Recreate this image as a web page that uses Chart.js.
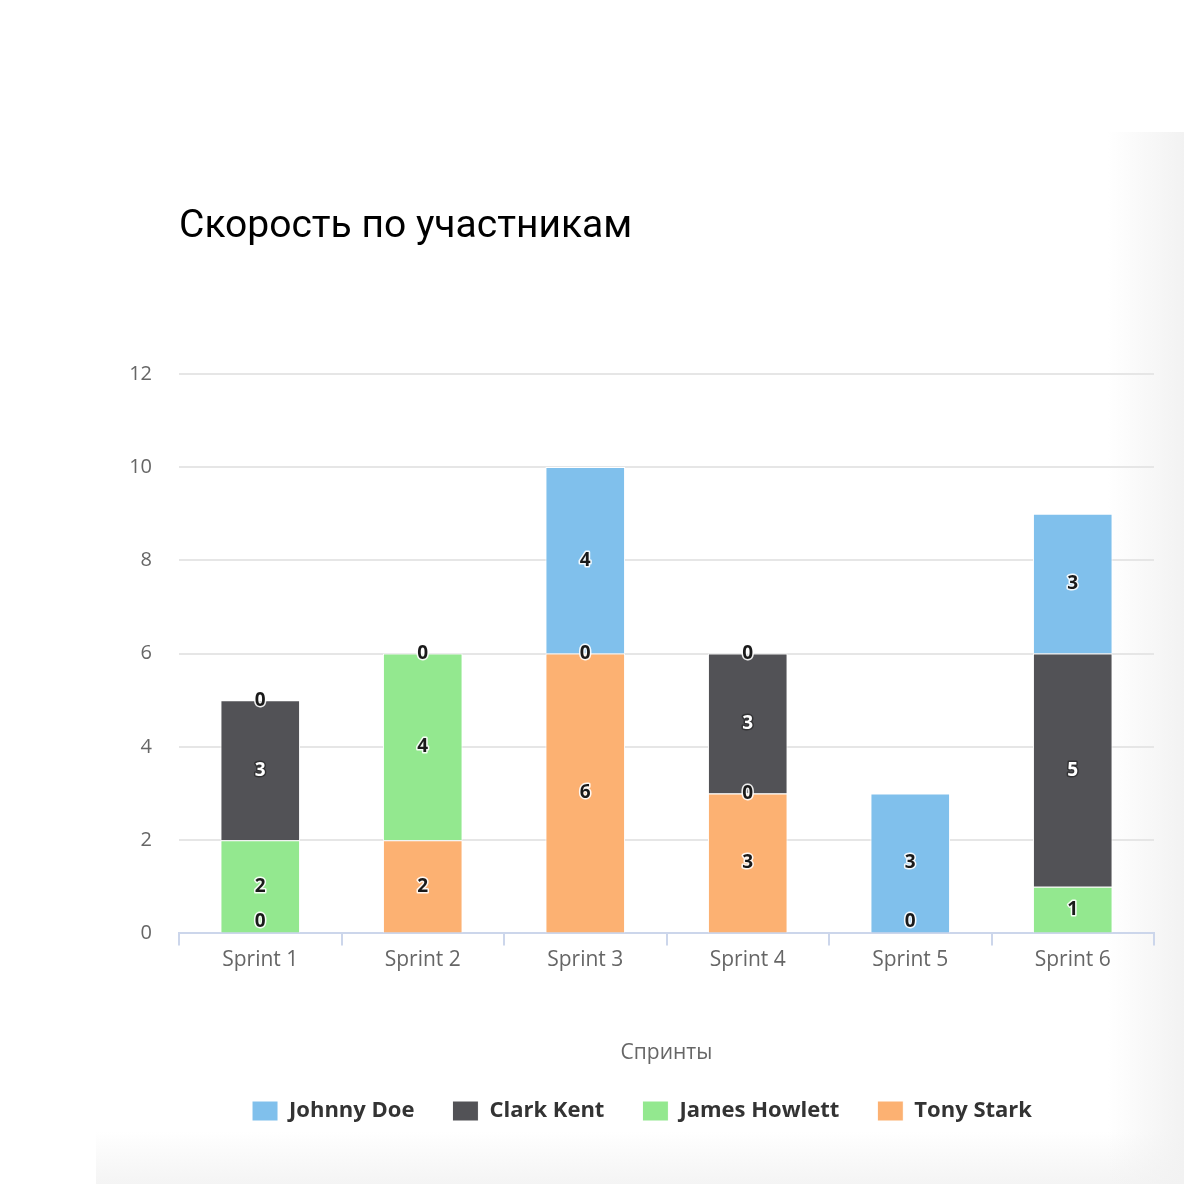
<!DOCTYPE html>
<html>
<head>
<meta charset="utf-8">
<script src="https://cdn.jsdelivr.net/npm/chart.js@4/dist/chart.umd.min.js"></script>
<style>
  html, body { margin: 0; padding: 0; background: #ffffff; }
  #wrap { position: relative; width: 1184px; height: 1184px; overflow: hidden; }
  #panel {
    position: absolute; left: 96px; top: 132px; width: 1088px; height: 1052px;
    background:
      linear-gradient(to right, rgba(242,242,242,0) 0%, rgba(242,242,242,0) 93%, rgba(242,242,242,1) 100%),
      linear-gradient(to bottom, rgba(244,244,244,0) 0%, rgba(244,244,244,0) 95%, rgba(244,244,244,1) 100%);
  }
  canvas { position: absolute; left: 0; top: 0; }
</style>
</head>
<body>
<div id="wrap">
  <div id="panel"></div>
  <canvas id="c" width="1184" height="1184"></canvas>
</div>
<script>
const chartTitle = 'Скорость по участникам';
const xAxisTitle = 'Спринты';
const categories = ['Sprint 1', 'Sprint 2', 'Sprint 3', 'Sprint 4', 'Sprint 5', 'Sprint 6'];
const yTicks = [0, 2, 4, 6, 8, 10, 12];

// stacked bottom -> top
const tonyStark    = [0, 2, 6, 3, 0, null];
const jamesHowlett = [2, 4, 0, 0, null, 1];
const clarkKent    = [3, null, null, 3, null, 5];
const johnnyDoe    = [0, 0, 4, 0, 3, 3];

const seriesNames  = ['Tony Stark', 'James Howlett', 'Clark Kent', 'Johnny Doe'];
const seriesData   = [tonyStark, jamesHowlett, clarkKent, johnnyDoe];
const seriesColors = ['#fcb172', '#93e88f', '#525256', '#80c0ec'];
const darkSeries   = [false, false, true, false];

const valueLabels = {
  id: 'valueLabels',
  afterDatasetsDraw(chart) {
    const ctx = chart.ctx;
    const area = chart.chartArea;
    ctx.save();
    ctx.font = 'bold 19px "Open Sans", "DejaVu Sans", sans-serif';
    ctx.textAlign = 'center';
    ctx.textBaseline = 'middle';
    ctx.lineJoin = 'round';
    chart.data.datasets.forEach((ds, di) => {
      const meta = chart.getDatasetMeta(di);
      meta.data.forEach((el, i) => {
        const v = ds.data[i];
        if (v === null || v === undefined) return;
        let y = v === 0 ? el.y : (el.y + el.base) / 2;
        if (y > area.bottom - 12) y = area.bottom - 12;
        const dark = darkSeries[di] && v !== 0;
        ctx.lineWidth = 3;
        ctx.strokeStyle = dark ? 'rgba(30,30,30,0.6)' : 'rgba(255,255,255,0.9)';
        ctx.strokeText(String(v), el.x, y);
        ctx.fillStyle = dark ? '#ffffff' : '#1a1a1a';
        ctx.fillText(String(v), el.x, y);
      });
    });
    ctx.restore();
  }
};

new Chart(document.getElementById('c'), {
  type: 'bar',
  data: {
    labels: categories,
    datasets: seriesNames.map((name, i) => ({
      label: name,
      data: seriesData[i],
      backgroundColor: seriesColors[i],
      borderColor: '#ffffff',
      borderWidth: 1,
      categoryPercentage: 1.0,
      barPercentage: 0.49
    }))
  },
  options: {
    responsive: false,
    animation: false,
    devicePixelRatio: 1,
    layout: { padding: { left: 130, right: 30, top: 0, bottom: 52 } },
    plugins: {
      title: {
        display: true,
        text: chartTitle,
        align: 'start',
        color: '#000000',
        font: { family: 'Roboto', size: 39, weight: 'normal' },
        padding: { top: 204, bottom: 123, left: 0 },
        fullSize: false
      },
      legend: {
        display: true,
        position: 'bottom',
        reverse: true,
        labels: {
          boxWidth: 26,
          boxHeight: 20,
          padding: 38,
          color: '#333333',
          font: { family: '"Open Sans", sans-serif', size: 22, weight: 'bold' }
        }
      },
      tooltip: { enabled: false }
    },
    scales: {
      x: {
        stacked: true,
        offset: true,
        afterFit(scale) { scale.height = 128.6; },
        grid: { display: true, drawOnChartArea: false, drawTicks: true, tickLength: 12, color: '#ccd6eb', lineWidth: 2, offset: true },
        border: { display: true, color: '#ccd6eb', width: 2 },
        ticks: { color: '#666666', padding: 2, font: { family: '"Open Sans", sans-serif', size: 21 } },
        title: { display: true, text: xAxisTitle, color: '#666666', font: { family: '"Open Sans", sans-serif', size: 21 }, padding: { top: 60, bottom: -4 } }
      },
      y: {
        stacked: true,
        min: 0,
        max: 12,
        afterBuildTicks(scale) { scale.ticks = yTicks.map(v => ({ value: v })); },
        afterFit(scale) { scale.width = 49; },
        grid: { color: '#e6e6e6', lineWidth: 2, drawTicks: false },
        border: { display: false },
        ticks: { color: '#666666', padding: 27, font: { family: '"Open Sans", sans-serif', size: 20 } }
      }
    }
  },
  plugins: [valueLabels]
});
</script>
</body>
</html>
